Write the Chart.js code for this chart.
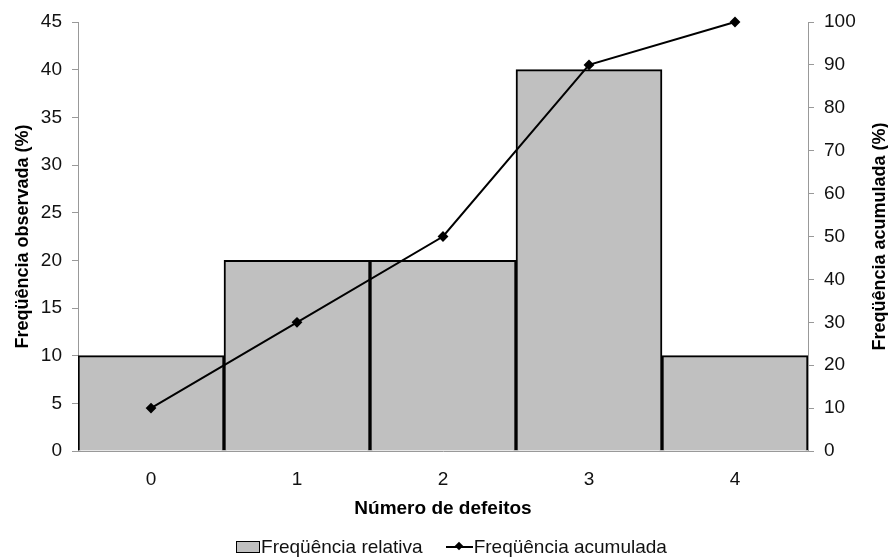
<!DOCTYPE html>
<html>
<head>
<meta charset="utf-8">
<script src="https://cdn.jsdelivr.net/npm/chart.js@4/dist/chart.umd.min.js"></script>
<style>
  html, body { margin: 0; padding: 0; background: #fff; }
  #wrap { position: relative; width: 888px; height: 558px; }
  #legend { position: absolute; left: 0; top: 536px; width: 888px; height: 22px; box-sizing: border-box; padding-left: 15px;
    display: flex; justify-content: center; align-items: center;
    font-family: 'Liberation Sans', Arial, sans-serif; font-size: 19px; color: #111; }
  .item { display: flex; align-items: center; }
  .box { width: 22px; height: 10px; background: #C0C0C0; border: 1.5px solid #000; margin-right: 1px; }
  .ln { position: relative; width: 27px; height: 2px; background: #000; margin-right: 1px; }
  .ln::after { content: ''; position: absolute; left: 10px; top: -3px; width: 6px; height: 6px; background: #000; transform: rotate(45deg); }
</style>
</head>
<body>
<div id="wrap">
  <canvas id="c" width="888" height="558"></canvas>
  <div id="legend">
    <div class="item"><div class="box"></div><span>Freqüência relativa</span></div>
    <div class="item" style="margin-left:23px"><div class="ln"></div><span>Freqüência acumulada</span></div>
  </div>
</div>
<script>
const categories = ['0', '1', '2', '3', '4'];
const relativeFreq = [10, 20, 20, 40, 10];
const cumulativeFreq = [10, 30, 50, 90, 100];
const leftTicks = [0, 5, 10, 15, 20, 25, 30, 35, 40, 45];
const rightTicks = [0, 10, 20, 30, 40, 50, 60, 70, 80, 90, 100];

const FONT = "'Liberation Sans', Arial, sans-serif";

const rightTitle = {
  id: 'rightTitle',
  afterDraw(chart) {
    const ctx = chart.ctx;
    const a = chart.chartArea;
    ctx.save();
    ctx.translate(880, (a.top + a.bottom) / 2);
    ctx.rotate(-Math.PI / 2);
    ctx.font = 'bold 18px ' + FONT;
    ctx.fillStyle = '#000';
    ctx.textAlign = 'center';
    ctx.textBaseline = 'middle';
    ctx.fillText('Freqüência acumulada (%)', 0, 0);
    ctx.restore();
  }
};

new Chart(document.getElementById('c'), {
  data: {
    labels: categories,
    datasets: [
      {
        type: 'line',
        label: 'Freqüência acumulada',
        data: cumulativeFreq,
        yAxisID: 'y1',
        borderColor: '#000',
        backgroundColor: '#000',
        borderWidth: 2,
        pointStyle: 'rectRot',
        pointRadius: 4,
        pointHoverRadius: 4,
        tension: 0,
        clip: false,
        order: 0
      },
      {
        type: 'bar',
        label: 'Freqüência relativa',
        data: relativeFreq,
        yAxisID: 'y',
        backgroundColor: '#C0C0C0',
        borderColor: '#000',
        borderWidth: 2,
        barPercentage: 1,
        categoryPercentage: 1,
        order: 1
      }
    ]
  },
  options: {
    responsive: false,
    animation: false,
    layout: { padding: { top: 22, bottom: 38, left: 0, right: 0 } },
    plugins: { legend: { display: false }, tooltip: { enabled: false } },
    scales: {
      x: {
        z: 1,
        grid: { display: false, drawTicks: false },
        border: { color: '#999', width: 1 },
        ticks: { padding: 17, color: '#111', font: { family: FONT, size: 19 } },
        title: { display: true, text: 'Número de defeitos', color: '#000',
                 font: { family: FONT, size: 19, weight: 'bold' }, padding: 0 },
        afterFit(s) { s.height = 69; }
      },
      y: {
        position: 'left',
        min: 0, max: 45,
        afterBuildTicks(s) { s.ticks = leftTicks.map(v => ({ value: v })); },
        grid: { drawOnChartArea: false, drawTicks: true, tickLength: 6, color: '#999' },
        border: { color: '#999', width: 1 },
        ticks: { padding: 10, color: '#111', font: { family: FONT, size: 19 } },
        title: { display: true, text: 'Freqüência observada (%)', color: '#000',
                 font: { family: FONT, size: 18, weight: 'bold' }, padding: { top: 12, bottom: 0 } },
        afterFit(s) { s.width = 78; }
      },
      y1: {
        position: 'right',
        min: 0, max: 100,
        afterBuildTicks(s) { s.ticks = rightTicks.map(v => ({ value: v })); },
        grid: { drawOnChartArea: false, drawTicks: true, tickLength: 6, color: '#999' },
        border: { color: '#999', width: 1 },
        ticks: { padding: 10, color: '#111', font: { family: FONT, size: 19 } },
        afterFit(s) { s.width = 80; }
      }
    }
  },
  plugins: [rightTitle]
});
</script>
</body>
</html>
